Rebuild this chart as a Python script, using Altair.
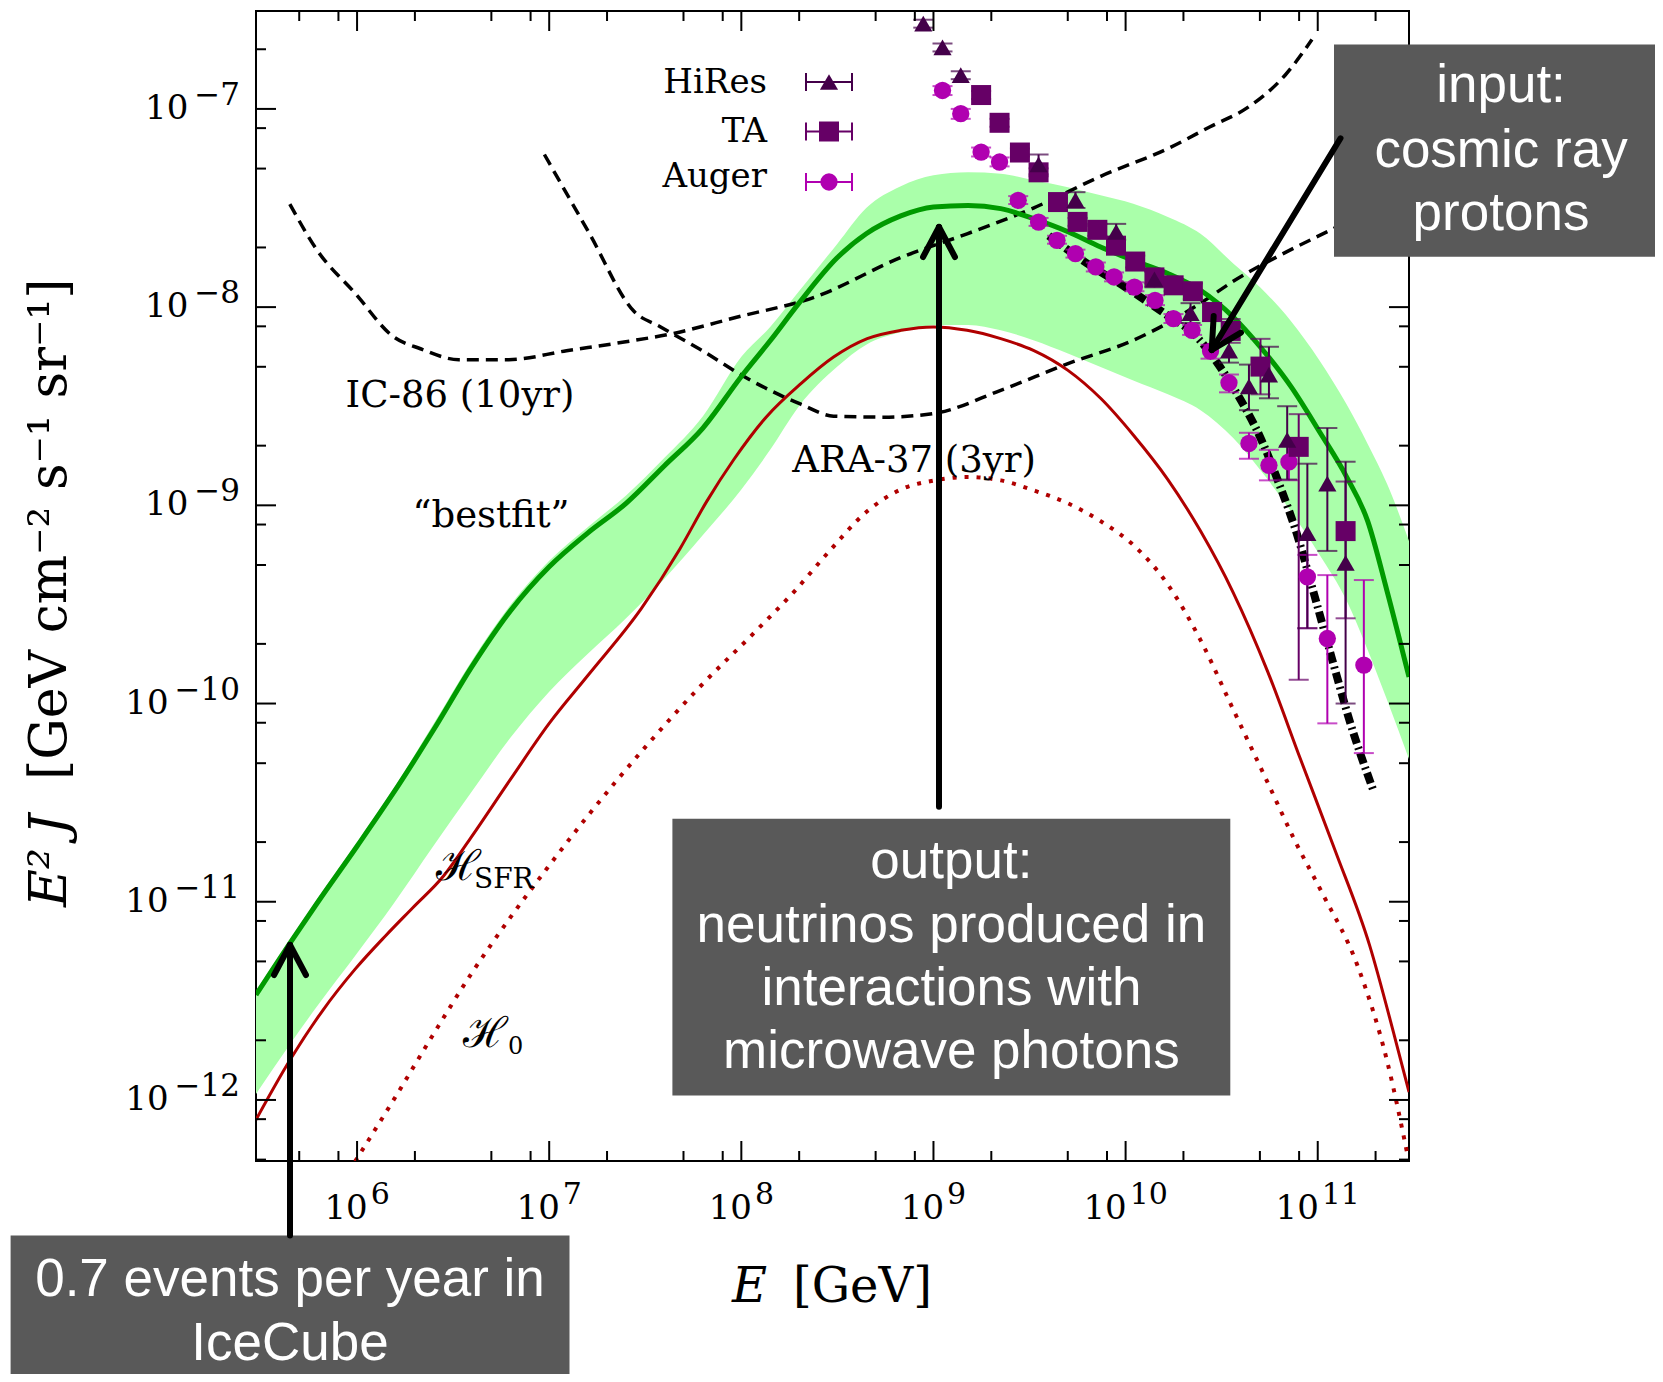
import altair as alt
import numpy as np
import pandas as pd

# ---------------- axis ranges (log10 units) and tick labels ----------------
LOG_E_MIN, LOG_E_MAX = 5.474, 11.475
LOG_J_MIN, LOG_J_MAX = -12.308, -6.506
X_TICK_EXP = [6, 7, 8, 9, 10, 11]
Y_TICK_EXP = [-12, -11, -10, -9, -8, -7]
MINOR_MULT = [2, 5, 8]

# ---------------- curves: log10(E/GeV), log10(E^2 J) ----------------
grid_logE = [5.474, 5.65, 5.79, 6.0, 6.19, 6.4, 6.6, 6.8, 7.0, 7.2, 7.4, 7.6, 7.8, 8.0, 8.15, 8.3,
             8.5, 8.65, 8.83, 9.0, 9.18, 9.35, 9.52, 9.7, 9.87, 10.04, 10.22, 10.39, 10.56, 10.7,
             10.86, 11.01, 11.15, 11.26, 11.36, 11.475]
bestfit_logJ = [-11.47, -11.21, -11.01, -10.72, -10.45, -10.13, -9.81, -9.53, -9.31, -9.14, -8.99,
                -8.80, -8.61, -8.35, -8.17, -7.98, -7.75, -7.63, -7.54, -7.495, -7.487, -7.503,
                -7.554, -7.62, -7.697, -7.764, -7.83, -7.915, -8.05, -8.20, -8.40, -8.63, -8.856,
                -9.08, -9.43, -9.866]
band_hi_logJ = [-11.45, -11.19, -10.99, -10.70, -10.43, -10.10, -9.78, -9.50, -9.28, -9.11, -8.95,
                -8.76, -8.55, -8.25, -8.10, -7.92, -7.68, -7.50, -7.39, -7.335, -7.32, -7.327,
                -7.36, -7.395, -7.436, -7.478, -7.545, -7.63, -7.78, -7.90, -8.07, -8.27, -8.49,
                -8.69, -8.89, -9.18]
band_lo_logJ = [-11.97, -11.72, -11.53, -11.26, -11.01, -10.715, -10.44, -10.17, -9.94, -9.75, -9.57,
                -9.37, -9.15, -8.92, -8.72, -8.50, -8.30, -8.19, -8.126, -8.092, -8.09, -8.117,
                -8.167, -8.234, -8.302, -8.37, -8.44, -8.52, -8.66, -8.82, -9.03, -9.25, -9.48,
                -9.73, -9.98, -10.28]

sfr_logE = [5.474, 5.65, 5.82, 5.99, 6.15, 6.29, 6.45, 6.59, 6.8, 7.0, 7.2, 7.48, 7.68, 7.82, 7.96,
            8.13, 8.31, 8.48, 8.655, 8.83, 9.0, 9.175, 9.35, 9.52, 9.70, 9.87, 10.04, 10.22, 10.39,
            10.56, 10.74, 10.91, 11.09, 11.27, 11.40, 11.475]
sfr_logJ = [-12.10, -11.80, -11.55, -11.34, -11.17, -11.03, -10.87, -10.68, -10.38, -10.10, -9.86,
            -9.52, -9.22, -8.98, -8.77, -8.554, -8.386, -8.252, -8.159, -8.117, -8.10, -8.117,
            -8.159, -8.218, -8.319, -8.46, -8.645, -8.87, -9.13, -9.44, -9.84, -10.28, -10.74,
            -11.22, -11.68, -11.96]

h0_logE = [5.99, 6.19, 6.39, 6.59, 6.79, 6.99, 7.19, 7.50, 7.78, 8.08, 8.28, 8.45, 8.655, 8.83, 9.0,
           9.175, 9.35, 9.52, 9.70, 9.87, 10.04, 10.22, 10.39, 10.56, 10.74, 10.88, 11.02, 11.21,
           11.36, 11.47]
h0_logJ = [-12.31, -12.00, -11.68, -11.37, -11.09, -10.83, -10.58, -10.22, -9.92, -9.63, -9.43,
           -9.24, -9.03, -8.92, -8.875, -8.857, -8.874, -8.924, -8.99, -9.08, -9.20, -9.40, -9.68,
           -10.03, -10.40, -10.69, -10.95, -11.33, -11.80, -12.29]

ic86_logE = [5.65, 5.79, 5.99, 6.19, 6.33, 6.53, 6.79, 7.09, 7.39, 7.64, 7.98, 8.38, 8.83, 9.175,
             9.52, 9.87, 10.22, 10.44, 10.64, 10.83, 10.97]
ic86_logJ = [-7.48, -7.71, -7.93, -8.15, -8.21, -8.265, -8.265, -8.22, -8.176, -8.134, -8.05, -7.95,
             -7.75, -7.63, -7.50, -7.34, -7.20, -7.09, -6.99, -6.83, -6.65]

ara_logE = [6.975, 7.21, 7.44, 7.58, 7.78, 8.05, 8.31, 8.48, 8.74, 9.00, 9.35, 9.70, 10.04,
            10.22, 10.39, 10.56, 10.84, 11.09, 11.475]
ara_logJ = [-7.23, -7.63, -8.02, -8.10, -8.21, -8.37, -8.49, -8.55, -8.555, -8.537, -8.42,
            -8.285, -8.167, -8.08, -7.98, -7.87, -7.72, -7.60, -7.40]

proton_logE = [9.6, 9.8, 10.0, 10.2, 10.37, 10.48, 10.6, 10.70, 10.81, 10.89, 10.98, 11.07, 11.17, 11.29]
proton_logJ = [-7.64, -7.78, -7.90, -8.03, -8.15, -8.285, -8.47, -8.655, -8.92, -9.14, -9.445,
               -9.76, -10.10, -10.44]

# ---------------- cosmic-ray data (log10) ----------------
hires_logE = [8.947, 9.047, 9.142, 9.547, 9.739, 9.951, 10.15, 10.338, 10.538, 10.642, 10.746,
              10.841, 10.946, 11.05, 11.145]
hires_logJ = [-6.57, -6.69, -6.83, -7.28, -7.46, -7.62, -7.86, -8.03, -8.22, -8.40, -8.34, -8.67,
              -9.14, -8.89, -9.29]
hires_lo = [-6.59, -6.71, -6.85, -7.33, -7.50, -7.66, -7.90, -8.08, -8.28, -8.52, -8.46, -8.87,
            -9.62, -9.23, -10.0]
hires_hi = [-6.55, -6.67, -6.81, -7.23, -7.42, -7.58, -7.82, -7.98, -8.16, -8.29, -8.20, -8.50,
            -8.79, -8.61, -8.78]

ta_logE = [9.248, 9.344, 9.45, 9.547, 9.648, 9.75, 9.853, 9.95, 10.05, 10.15, 10.25, 10.35, 10.45,
           10.547, 10.702, 10.901, 11.145]
ta_logJ = [-6.93, -7.07, -7.22, -7.32, -7.47, -7.57, -7.61, -7.69, -7.77, -7.85, -7.89, -7.92,
           -8.025, -8.12, -8.30, -8.705, -9.13]
ta_lo = [-6.95, -7.09, -7.24, -7.34, -7.49, -7.59, -7.64, -7.72, -7.80, -7.88, -7.92, -7.96,
         -8.07, -8.18, -8.44, -9.88, -9.57]
ta_hi = [-6.91, -7.05, -7.20, -7.30, -7.45, -7.55, -7.58, -7.66, -7.74, -7.82, -7.86, -7.88,
         -7.98, -8.06, -8.16, -8.54, -8.88]

auger_logE = [9.047, 9.142, 9.248, 9.344, 9.441, 9.547, 9.643, 9.739, 9.845, 9.94, 10.046, 10.153,
              10.249, 10.346, 10.442, 10.538, 10.642, 10.746, 10.85, 10.946, 11.05, 11.24]
auger_logJ = [-6.907, -7.024, -7.218, -7.268, -7.461, -7.571, -7.663, -7.73, -7.797, -7.848, -7.899,
              -7.966, -8.058, -8.117, -8.222, -8.382, -8.688, -8.798, -8.781, -9.361, -9.672, -9.806]
auger_lo = [-6.93, -7.05, -7.24, -7.29, -7.48, -7.59, -7.68, -7.75, -7.82, -7.87, -7.92, -7.99,
            -8.08, -8.14, -8.26, -8.43, -8.765, -8.874, -8.874, -9.62, -10.10, -10.25]
auger_hi = [-6.885, -7.0, -7.195, -7.245, -7.44, -7.55, -7.64, -7.71, -7.775, -7.825, -7.875,
            -7.94, -8.035, -8.09, -8.19, -8.34, -8.634, -8.72, -8.70, -9.25, -9.352, -9.377]

COL_HIRES, COL_TA, COL_AUGER = "#44004a", "#660066", "#b000b0"

# ---------------- layout (pixels) ----------------
W, H = 1153, 1150
SERIF = "DejaVu Serif"
SANS = "Liberation Sans"
BOX = "#595959"
BASE_SIZE, EXP_SIZE = 34, 31

xsc = alt.Scale(type="log", domain=[10 ** LOG_E_MIN, 10 ** LOG_E_MAX], nice=False)
ysc = alt.Scale(type="log", domain=[10 ** LOG_J_MIN, 10 ** LOG_J_MAX], nice=False)


def X(f="E"):
    return alt.X(f + ":Q", scale=xsc, axis=None)


def Y(f="J"):
    return alt.Y(f + ":Q", scale=ysc, axis=None)


def curve_df(le, lj):
    return pd.DataFrame({"E": 10.0 ** np.array(le), "J": 10.0 ** np.array(lj)})


def series_df(le, lj, lo, hi):
    return pd.DataFrame({"E": 10.0 ** np.array(le), "J": 10.0 ** np.array(lj),
                         "lo": 10.0 ** np.array(lo), "hi": 10.0 ** np.array(hi)})


one = pd.DataFrame({"k": [0]})
layers = []

# band
band_df = pd.DataFrame({"E": 10.0 ** np.array(grid_logE), "J": 10.0 ** np.array(band_lo_logJ),
                        "J2": 10.0 ** np.array(band_hi_logJ)})
layers.append(alt.Chart(band_df).mark_area(color="#aaffaa", clip=True, interpolate="monotone")
              .encode(x=X(), y=Y(), y2=alt.Y2("J2:Q")))


def line(df, color, width, dash=None, cap="butt"):
    kw = dict(color=color, strokeWidth=width, clip=True, interpolate="monotone", strokeCap=cap)
    if dash:
        kw["strokeDash"] = dash
    return alt.Chart(df).mark_line(**kw).encode(x=X(), y=Y())


layers.append(line(curve_df(ic86_logE, ic86_logJ), "black", 3.5, [12, 7]))
layers.append(line(curve_df(ara_logE, ara_logJ), "black", 3.5, [12, 7]))
layers.append(line(curve_df(h0_logE, h0_logJ), "#b00000", 4, [4, 8]))
layers.append(line(curve_df(sfr_logE, sfr_logJ), "#b00000", 3))
layers.append(line(curve_df(grid_logE, bestfit_logJ), "#009a00", 5))
layers.append(line(curve_df(proton_logE, proton_logJ), "black", 8, [11, 4, 2, 4]))

# cosmic ray data
series = [
    (series_df(auger_logE, auger_logJ, auger_lo, auger_hi), COL_AUGER, "circle", 300),
    (series_df(ta_logE, ta_logJ, ta_lo, ta_hi), COL_TA, "square", 400),
    (series_df(hires_logE, hires_logJ, hires_lo, hires_hi), COL_HIRES, "triangle-up", 330),
]
for df, col, shp, sz in series:
    layers.append(alt.Chart(df).mark_rule(color=col, strokeWidth=2, clip=True)
                  .encode(x=X(), y=Y("lo"), y2=alt.Y2("hi:Q")))
    for f in ("lo", "hi"):
        layers.append(alt.Chart(df).mark_tick(color=col, orient="horizontal", size=20,
                                              thickness=2, clip=True)
                      .encode(x=X(), y=Y(f)))
for df, col, shp, sz in series:
    layers.append(alt.Chart(df).mark_point(shape=shp, filled=True, size=sz, color=col, opacity=1,
                                           strokeWidth=0, clip=True)
                  .encode(x=X(), y=Y()))

# inward ticks on all four sides
x_major = [10.0 ** e for e in X_TICK_EXP]
x_minor = [m * 10.0 ** d for d in range(5, 12) for m in MINOR_MULT
           if 10 ** LOG_E_MIN < m * 10.0 ** d < 10 ** LOG_E_MAX]
y_major = [10.0 ** e for e in Y_TICK_EXP]
y_minor = [m * 10.0 ** d for d in range(-13, -6) for m in MINOR_MULT
           if 10 ** LOG_J_MIN < m * 10.0 ** d < 10 ** LOG_J_MAX]
for vals, L in ((x_major, 20), (x_minor, 10)):
    dfx = pd.DataFrame({"E": vals})
    layers.append(alt.Chart(dfx).mark_rule(color="black", strokeWidth=2)
                  .encode(x=X(), y=alt.value(0), y2=alt.value(L)))
    layers.append(alt.Chart(dfx).mark_rule(color="black", strokeWidth=2)
                  .encode(x=X(), y=alt.value(H), y2=alt.value(H - L)))
for vals, L in ((y_major, 20), (y_minor, 10)):
    dfy = pd.DataFrame({"J": vals})
    layers.append(alt.Chart(dfy).mark_rule(color="black", strokeWidth=2)
                  .encode(y=Y(), x=alt.value(0), x2=alt.value(L)))
    layers.append(alt.Chart(dfy).mark_rule(color="black", strokeWidth=2)
                  .encode(y=Y(), x=alt.value(W), x2=alt.value(W - L)))

# tick labels: "10" with a raised exponent
BASE_W = BASE_SIZE * 1.272
for e in X_TICK_EXP:
    s = str(e)
    ew = 30 * 0.636 * len(s)
    tot = BASE_W + 3 + ew
    dfl = pd.DataFrame({"E": [10.0 ** e]})
    layers.append(alt.Chart(dfl).mark_text(text="10", font=SERIF, fontSize=BASE_SIZE, align="right",
                                           baseline="middle", dx=-tot / 2 + BASE_W, color="black")
                  .encode(x=X(), y=alt.value(H + 48)))
    layers.append(alt.Chart(dfl).mark_text(text=s, font=SERIF, fontSize=30, align="left",
                                           baseline="middle", dx=-tot / 2 + BASE_W + 3, color="black")
                  .encode(x=X(), y=alt.value(H + 34)))
for e in Y_TICK_EXP:
    s = "\u2212" + str(abs(e))
    ew = EXP_SIZE * (0.838 + 0.636 * len(str(abs(e))))
    dfl = pd.DataFrame({"J": [10.0 ** e]})
    layers.append(alt.Chart(dfl).mark_text(text=s, font=SERIF, fontSize=EXP_SIZE, align="right",
                                           baseline="middle", dy=-13, color="black")
                  .encode(x=alt.value(-16), y=Y()))
    layers.append(alt.Chart(dfl).mark_text(text="10", font=SERIF, fontSize=BASE_SIZE, align="right",
                                           baseline="middle", color="black")
                  .encode(x=alt.value(-16 - ew - 6), y=Y()))


def txt(s, x, y, size, font=SERIF, color="black", align="left", baseline="alphabetic",
        style="normal", angle=0):
    return alt.Chart(one).mark_text(text=s, font=font, fontSize=size, color=color, align=align,
                                    baseline=baseline, fontStyle=style, angle=angle) \
        .encode(x=alt.value(x), y=alt.value(y))


def seg(x1, y1, x2, y2, color="black", width=2, cap="butt"):
    return alt.Chart(one).mark_rule(color=color, strokeWidth=width, strokeCap=cap) \
        .encode(x=alt.value(x1), x2=alt.value(x2), y=alt.value(y1), y2=alt.value(y2))


def rect(x1, y1, x2, y2, color):
    return alt.Chart(one).mark_rect(color=color, opacity=1) \
        .encode(x=alt.value(x1), x2=alt.value(x2), y=alt.value(y1), y2=alt.value(y2))


# legend
legend_rows = [("HiRes", COL_HIRES, "triangle-up", 330, 71, 82),
               ("TA", COL_TA, "square", 400, 120.5, 131),
               ("Auger", COL_AUGER, "circle", 300, 171, 176)]
for name, col, shp, sz, yy, base in legend_rows:
    layers.append(txt(name, 511, base, 34, align="right"))
    layers.append(seg(549, yy, 597, yy, col, 2))
    layers.append(seg(550, yy - 9, 550, yy + 9, col, 2))
    layers.append(seg(596, yy - 9, 596, yy + 9, col, 2))
    layers.append(alt.Chart(one).mark_point(shape=shp, filled=True, size=sz, color=col, opacity=1,
                                            strokeWidth=0)
                  .encode(x=alt.value(573), y=alt.value(yy)))

# in-plot labels
layers.append(txt("IC-86 (10yr)", 204, 396, 37, align="center"))
layers.append(txt("ARA-37 (3yr)", 658, 461, 37, align="center"))
layers.append(txt("“bestfit”", 235, 516, 37, align="center"))
layers.append(txt("ℋ", 180, 869, 42))
layers.append(txt("SFR", 218, 877, 28))
layers.append(txt("ℋ", 207, 1036, 42))
layers.append(txt("0", 252, 1043, 24))

# axis titles
layers.append(txt("E", 476, 1291, 48, style="italic"))
layers.append(txt("[GeV]", 537, 1291, 48))
layers.append(txt("E²", -190, 896, 52, style="italic", angle=270))
layers.append(txt("J", -190, 824, 52, style="italic", angle=270))
layers.append(txt("[GeV cm⁻² s⁻¹ sr⁻¹]", -190, 769, 52, angle=270))

# annotation boxes
layers.append(rect(1078, 33.5, 1399, 245.7, BOX))
for s, yy in (("input:", 90.7), ("cosmic ray", 155.7), ("protons", 219)):
    layers.append(txt(s, 1245, yy, 53, font=SANS, color="white", align="center"))
layers.append(rect(416.4, 807.8, 974.3, 1084.6, BOX))
for s, yy in (("output:", 867.3), ("neutrinos produced in", 930.7),
              ("interactions with", 994), ("microwave photons", 1057.3)):
    layers.append(txt(s, 695.4, yy, 53, font=SANS, color="white", align="center"))
layers.append(rect(-245.4, 1224.6, 313.5, 1363, BOX))
for s, yy in (("0.7 events per year in", 1285), ("IceCube", 1348.7)):
    layers.append(txt(s, 34, yy, 53, font=SANS, color="white", align="center"))


# arrows
def arrow(tail, tip, L=34, ang=28):
    out = [seg(tail[0], tail[1], tip[0], tip[1], "black", 6, "round")]
    dx, dy = tip[0] - tail[0], tip[1] - tail[1]
    n = np.hypot(dx, dy)
    bx, by = -dx / n, -dy / n
    for s in (1, -1):
        a = np.radians(s * ang)
        rx = bx * np.cos(a) - by * np.sin(a)
        ry = bx * np.sin(a) + by * np.cos(a)
        out.append(seg(tip[0], tip[1], tip[0] + L * rx, tip[1] + L * ry, "black", 6, "round"))
    return out


layers += arrow((1084.5, 127.3), (955.7, 339))
layers += arrow((683, 795.7), (683, 216))
layers += arrow((34, 1224.6), (34, 934))

chart = alt.layer(*layers).properties(
    width=W, height=H,
    autosize=alt.AutoSizeParams(type="none"),
    padding={"left": 248, "top": 3, "right": 246, "bottom": 213},
).configure_view(stroke="black", strokeWidth=2)

chart.save("out.html", embed_options={"renderer": "svg", "actions": False})
